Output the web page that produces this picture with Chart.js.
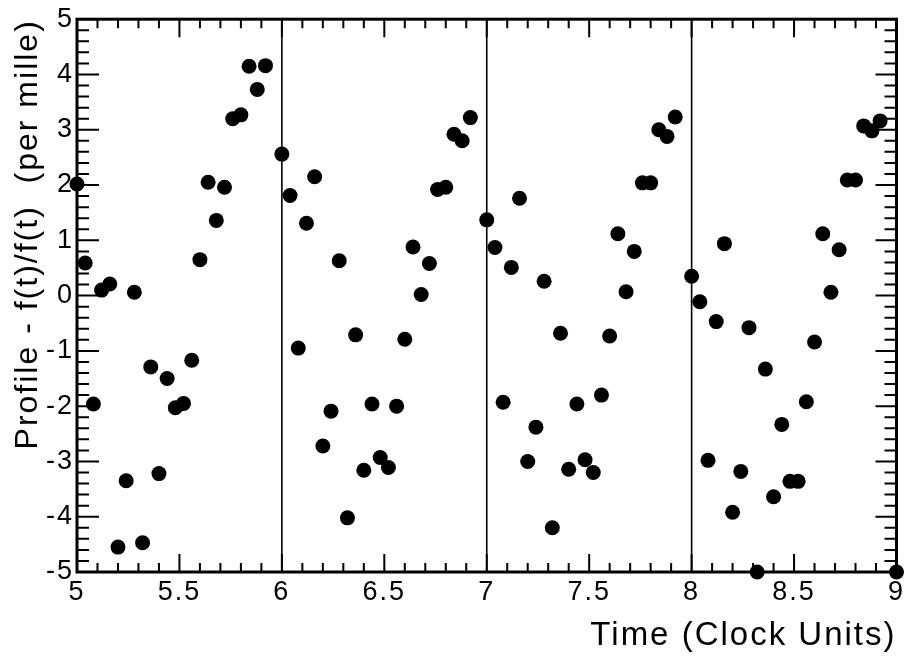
<!DOCTYPE html>
<html>
<head>
<meta charset="utf-8">
<script src="https://cdn.jsdelivr.net/npm/chart.js@4.4.1/dist/chart.umd.min.js"></script>
<style>
  html, body { margin: 0; padding: 0; background: #fff; }
  #wrap { width: 908px; height: 656px; position: relative; }
</style>
</head>
<body>
<div id="wrap"><canvas id="profileChart"></canvas></div>
<script>
// clock-unit times of each sample (points above +5 are off the frame and left out)
const time = [
  5.00, 5.04, 5.08, 5.12, 5.16, 5.20, 5.24, 5.28, 5.32, 5.36, 5.40, 5.44,
  5.48, 5.52, 5.56, 5.60, 5.64, 5.68, 5.72, 5.76, 5.80, 5.84, 5.88, 5.92,
  6.00, 6.04, 6.08, 6.12, 6.16, 6.20, 6.24, 6.28, 6.32, 6.36, 6.40, 6.44,
  6.48, 6.52, 6.56, 6.60, 6.64, 6.68, 6.72, 6.76, 6.80, 6.84, 6.88, 6.92,
  7.00, 7.04, 7.08, 7.12, 7.16, 7.20, 7.24, 7.28, 7.32, 7.36, 7.40, 7.44,
  7.48, 7.52, 7.56, 7.60, 7.64, 7.68, 7.72, 7.76, 7.80, 7.84, 7.88, 7.92,
  8.00, 8.04, 8.08, 8.12, 8.16, 8.20, 8.24, 8.28, 8.32, 8.36, 8.40, 8.44,
  8.48, 8.52, 8.56, 8.60, 8.64, 8.68, 8.72, 8.76, 8.80, 8.84, 8.88, 8.92,
  9.00
];

// profile residual, per mille
const residual = [
  2.02, 0.59, -1.96, 0.10, 0.21, -4.55, -3.35, 0.06, -4.47, -1.29, -3.22, -1.50,
  -2.03, -1.95, -1.17, 0.65, 2.05, 1.36, 1.96, 3.20, 3.27, 4.15, 3.73, 4.16,
  2.56, 1.81, -0.95, 1.31, 2.15, -2.72, -2.09, 0.63, -4.02, -0.71, -3.16, -1.96,
  -2.93, -3.11, -2.00, -0.79, 0.88, 0.02, 0.58, 1.92, 1.96, 2.92, 2.80, 3.22,
  1.37, 0.87, -1.93, 0.51, 1.76, -3.00, -2.38, 0.26, -4.20, -0.68, -3.14, -1.96,
  -2.97, -3.20, -1.80, -0.73, 1.12, 0.07, 0.80, 2.04, 2.04, 3.00, 2.88, 3.23,
  0.35, -0.11, -2.98, -0.47, 0.94, -3.92, -3.18, -0.58, -5.00, -1.33, -3.64, -2.33,
  -3.36, -3.36, -1.92, -0.84, 1.12, 0.06, 0.83, 2.09, 2.09, 3.07, 2.98, 3.16,
  -5.00
];

// whole clock units get a vertical marker line
const clockEdges = [6, 7, 8];

const xRange = [5, 9];
const yRange = [-5, 5];

const points = time.map((t, i) => ({ x: t, y: residual[i] }));

const FONT = "'Liberation Sans', Arial, Helvetica, sans-serif";

// tick labels like ROOT: 5, 5.5, 6 ...
const plainNumber = v => String(Number(v.toFixed(2)));

// ROOT-like frame: thick box, ticks pointing inwards on all four sides, clock lines
const framePlugin = {
    id: 'frame',
    beforeDraw(chart) {
        // ROOT's helvetica runs wider than Arial
        chart.ctx.letterSpacing = '2px';
    },
    beforeDatasetsDraw(chart) {
        const { ctx, chartArea: a, scales: { x, y } } = chart;
        ctx.save();
        ctx.strokeStyle = '#000';

        ctx.lineWidth = 1.6;
        clockEdges.forEach(t => {
            const px = x.getPixelForValue(t);
            ctx.beginPath();
            ctx.moveTo(px, a.top);
            ctx.lineTo(px, a.bottom);
            ctx.stroke();
        });

        ctx.lineWidth = 2;
        ctx.beginPath();
        // x ticks: major 0.5, minor 0.1
        for (let k = Math.round(xRange[0] * 10); k <= Math.round(xRange[1] * 10); k++) {
            const px = x.getPixelForValue(k / 10);
            const len = k % 5 === 0 ? 18 : 9;
            ctx.moveTo(px, a.bottom); ctx.lineTo(px, a.bottom - len);
            ctx.moveTo(px, a.top); ctx.lineTo(px, a.top + len);
        }
        // y ticks: major 1, minor 0.2
        for (let k = yRange[0] * 5; k <= yRange[1] * 5; k++) {
            const py = y.getPixelForValue(k / 5);
            const major = k % 5 === 0;
            ctx.moveTo(a.left, py); ctx.lineTo(a.left + (major ? 22 : 12), py);
            ctx.moveTo(a.right, py); ctx.lineTo(a.right - (major ? 21 : 12), py);
        }
        ctx.stroke();

        ctx.lineWidth = 3;
        ctx.strokeRect(a.left, a.top, a.right - a.left, a.bottom - a.top);
        ctx.restore();
    }
};

const ctx = document.getElementById('profileChart').getContext('2d');
new Chart(ctx, {
    type: 'scatter',
    data: {
        datasets: [{
            label: 'profile',
            data: points,
            backgroundColor: '#000',
            borderColor: '#000',
            borderWidth: 0,
            pointRadius: 7.5,
            pointHoverRadius: 7.5,
            clip: false
        }]
    },
    options: {
        responsive: true,
        maintainAspectRatio: false,
        animation: false,
        events: [],
        layout: { padding: { top: 18, right: 10, left: 0, bottom: 0 } },
        plugins: {
            legend: { display: false },
            tooltip: { enabled: false }
        },
        scales: {
            x: {
                type: 'linear',
                min: xRange[0],
                max: xRange[1],
                afterFit: s => { s.height = 84; },
                grid: { display: false, drawTicks: false },
                border: { display: false },
                ticks: {
                    stepSize: 0.5,
                    padding: 4,
                    color: '#000',
                    font: { family: FONT, size: 27 },
                    maxRotation: 0,
                    callback: plainNumber
                },
                title: {
                    display: true,
                    text: 'Time (Clock Units)',
                    align: 'end',
                    color: '#000',
                    font: { family: FONT, size: 33 },
                    padding: { top: 0, bottom: 0 }
                }
            },
            y: {
                min: yRange[0],
                max: yRange[1],
                afterFit: s => { s.width = 77; },
                grid: { display: false, drawTicks: false },
                border: { display: false },
                ticks: {
                    stepSize: 1,
                    padding: 3,
                    color: '#000',
                    font: { family: FONT, size: 27 },
                    callback: plainNumber
                },
                title: {
                    display: true,
                    text: 'Profile - f(t)/f(t)  (per mille)',
                    align: 'end',
                    color: '#000',
                    font: { family: FONT, size: 32 },
                    padding: { top: 9, bottom: 0 }
                }
            }
        }
    },
    plugins: [framePlugin]
});
</script>
</body>
</html>
